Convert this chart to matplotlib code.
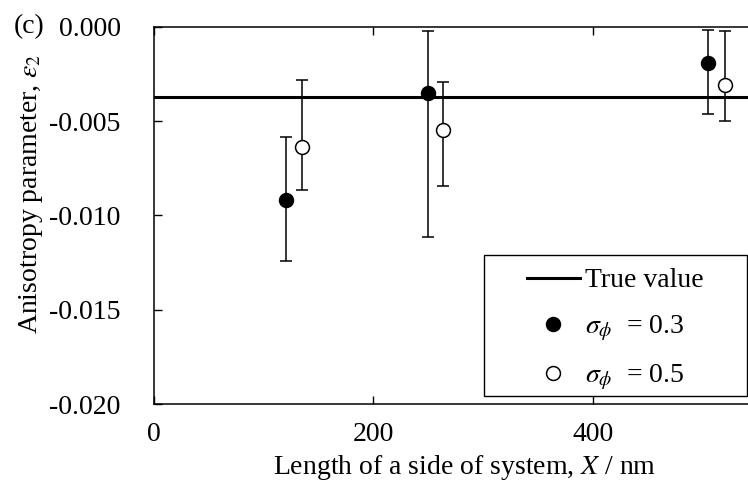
import matplotlib
matplotlib.use("Agg")
import matplotlib.pyplot as plt
from matplotlib.patches import Rectangle

plt.rcParams["font.family"] = "Liberation Serif"
plt.rcParams["mathtext.fontset"] = "stix"
plt.rcParams["axes.unicode_minus"] = False

# anisotropy estimates vs system size, two noise levels
true_value = -0.00371

x_03 = [120, 250, 505]
eps_03 = [-0.00918, -0.00348, -0.00189]
lo_03 = [-0.0124, -0.01116, -0.00463]
hi_03 = [-0.00585, -0.00021, -0.00014]

x_05 = [135, 263, 520]
eps_05 = [-0.00635, -0.00546, -0.00308]
lo_05 = [-0.00865, -0.00842, -0.00497]
hi_05 = [-0.00281, -0.0029, -0.00021]

yticks = [0.0, -0.005, -0.010, -0.015, -0.020]
ytick_labels = ["0.000", "-0.005", "-0.010", "-0.015", "-0.020"]
xticks = [0, 200, 400]

W, H = 748, 490
FS = 20
fig = plt.figure(figsize=(W / 100, H / 100), dpi=100)
ax = fig.add_axes([154 / W, 1 - 404 / H, 620 / W, 377 / H])

ax.axhline(true_value, color="black", lw=2.2, zorder=2, label="True value")

def yerr(y, lo, hi):
    return [[v - l for v, l in zip(y, lo)], [h - v for v, h in zip(y, hi)]]

ax.errorbar(x_03, eps_03, yerr=yerr(eps_03, lo_03, hi_03), fmt="none",
            ecolor="black", elinewidth=1.1, capsize=4.5, capthick=1.1, zorder=3)
ax.errorbar(x_05, eps_05, yerr=yerr(eps_05, lo_05, hi_05), fmt="none",
            ecolor="black", elinewidth=1.1, capsize=4.5, capthick=1.1, zorder=3)
ax.plot(x_03, eps_03, "o", ms=10, mfc="black", mec="black", mew=1.1,
        zorder=4, label=r"$\sigma_{\phi}$  = 0.3")
ax.plot(x_05, eps_05, "o", ms=10, mfc="white", mec="black", mew=1.1,
        zorder=4, label=r"$\sigma_{\phi}$  = 0.5")

ax.set_xlim(0, 565)
ax.set_ylim(-0.020, 0.0)
ax.set_xticks(xticks)
ax.set_yticks(yticks)
ax.set_yticklabels(ytick_labels)
ax.tick_params(direction="in", length=6, width=1, labelsize=FS, top=True)
ax.tick_params(axis="y", pad=24)
ax.tick_params(axis="x", pad=13)
for s in ax.spines.values():
    s.set_linewidth(1.1)

fig.text(465 / W, 1 - 467 / H, "Length of a side of system, $X$ / nm",
         ha="center", va="center", fontsize=FS)
fig.text(31 / W, 1 - 194 / H, r"Anisotropy parameter, $\varepsilon_2$",
         ha="center", va="center", rotation=90, fontsize=FS)
fig.text(14 / W, 1 - 27 / H, "(c)", ha="left", va="center", fontsize=FS)

# legend box drawn separately so it can sit flush with the right edge
fig.patches.append(Rectangle((484 / W, 1 - 396 / H), 263 / W, 141 / H,
                             transform=fig.transFigure, fill=False,
                             ec="black", lw=1.0, zorder=5))
ax.legend(loc="upper left", bbox_to_anchor=(527 / W, 1 - 268 / H),
          bbox_transform=fig.transFigure, frameon=False, fontsize=FS,
          handlelength=1.9, handletextpad=0.2, labelspacing=0.72,
          borderpad=0, borderaxespad=0)

fig.savefig("out.png", dpi=100)
